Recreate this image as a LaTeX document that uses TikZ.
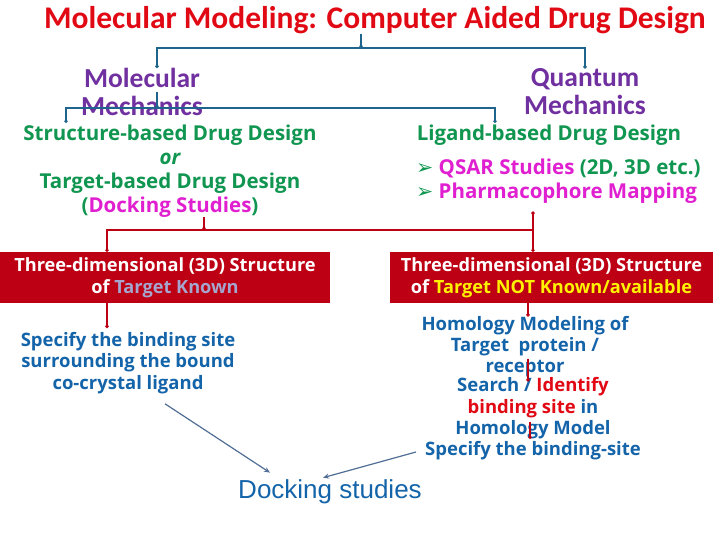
\documentclass[tikz,border=0pt]{standalone}
\usepackage{fontspec}
\setmainfont{Open Sans}
\newfontfamily\calibri{Carlito}
\newfontfamily\arialfont{Liberation Sans}
\newfontfamily\symfont{DejaVu Sans}
\usetikzlibrary{arrows.meta}
\definecolor{titlered}{RGB}{225,10,20}
\definecolor{treeblue}{RGB}{31,100,140}
\definecolor{mmpurple}{RGB}{112,48,160}
\definecolor{ddgreen}{RGB}{16,150,80}
\definecolor{dmagenta}{RGB}{224,32,208}
\definecolor{boxred}{RGB}{190,0,20}
\definecolor{lavtext}{RGB}{165,165,205}
\definecolor{stepblue}{RGB}{20,100,170}
\definecolor{arrowgrey}{RGB}{80,110,150}
\newcommand{\bul}{{\symfont\char"27A2}\ }

\begin{document}
\begin{tikzpicture}[x=1pt,y=-1pt,
    lbl/.style={inner sep=0pt,align=center},
    bluetree/.style={draw=treeblue,line width=1.1pt},
    redtree/.style={draw=boxred,line width=1.1pt},
    dot/.style={-{Circle[length=3.5pt]}},
    redbox/.style={fill=boxred,text=white,inner sep=0pt,align=center,
      font=\bfseries\fontsize{18.2}{22}\selectfont},
    ddtext/.style={lbl,text=ddgreen,font=\bfseries\fontsize{20.5}{24}\selectfont},
    steptext/.style={lbl,text=stepblue,font=\bfseries\fontsize{18.5}{21.3}\selectfont},
    tomodel/.style={draw=arrowgrey,line width=1.2pt,-{Stealth[length=6pt,width=5pt]}}]
  \useasboundingbox[fill=white] (0,0) rectangle (720,540);
  % headings
  \node[lbl,text=titlered,font=\calibri\bfseries\fontsize{31.5}{34}\selectfont] (title) at (375,20)
    {Molecular Modeling: Computer Aided Drug Design};
  \node[lbl,text=mmpurple,font=\calibri\bfseries\fontsize{27.5}{28}\selectfont] (mm) at (142,92)
    {Molecular\\Mechanics};
  \node[lbl,text=mmpurple,font=\calibri\bfseries\fontsize{27.5}{28}\selectfont] (qm) at (585,92)
    {Quantum\\Mechanics};
  % design approaches
  \node[ddtext] (sbdd) at (170,171)
    {Structure-based Drug Design\\{\itshape or}\\Target-based Drug Design\\(\textcolor{dmagenta}{Docking Studies})};
  \node[ddtext] (lbdd) at (549,135)
    {Ligand-based Drug Design};
  \node[ddtext,anchor=west,text=dmagenta] (qsar) at (416,168)
    {\textcolor{ddgreen}{\bul}QSAR Studies \textcolor{ddgreen}{(2D, 3D etc.)}};
  \node[ddtext,anchor=west,text=dmagenta] (pharm) at (416,193)
    {\textcolor{ddgreen}{\bul}Pharmacophore Mapping};
  % structure known or not
  \node[redbox,minimum width=330pt,minimum height=51pt] (known) at (165,277.5)
    {Three-dimensional (3D) Structure\\of \textcolor{lavtext}{Target Known}};
  \node[redbox,minimum width=323pt,minimum height=51pt] (notknown) at (551.5,277.5)
    {Three-dimensional (3D) Structure\\of \textcolor{yellow}{Target NOT Known/available}};
  % steps
  \node[steptext] (bind) at (128,363)
    {Specify the binding site\\surrounding the bound\\co-crystal ligand};
  \node[steptext] (homol) at (525,346.5)
    {Homology Modeling of\\Target\ \ protein /\\receptor};
  \node[steptext] (search) at (533,419)
    {Search / \textcolor{titlered}{Identify}\\\textcolor{titlered}{binding site} in\\Homology Model\\Specify the binding-site};
  \node[lbl,text=stepblue,font=\arialfont\fontsize{26}{28}\selectfont] (dock) at (330,492)
    {Docking studies};
  % connectors
  \coordinate (j1) at (361,48);
  \coordinate (j2) at (157,108);
  \coordinate (sbtop) at (66,123);
  \coordinate (lbtop) at (495,123);
  \coordinate (j3) at (204,230);
  \coordinate (j4) at (533,230);
  \coordinate (kd) at (107,252);
  \coordinate (nd) at (533,252);
  \draw[bluetree,dot] (title.south -| j1) -- (j1);
  \draw[bluetree,dot] (j1) -| (mm.north -| j2);
  \draw[bluetree,dot] (j1) -| (qm.north);
  \draw[bluetree,dot] (mm.center -| j2) -- (j2);
  \draw[bluetree,dot] (j2) -| (sbtop);
  \draw[bluetree,dot] (j2) -| (lbtop);
  \draw[redtree,dot] (sbdd.south -| j3) -- (j3);
  \draw[redtree,dot] (j4) -- ([yshift=-8pt]pharm.south -| j4);
  \draw[redtree,dot] (j3) -| (kd);
  \draw[redtree,dot] (j3) -- (j4) -- (nd);
  \draw[redtree,dot] (known.south -| kd) -- ([yshift=4pt]bind.north -| kd);
  \draw[redtree,dot] ([xshift=-23.5pt]notknown.south) -- ([xshift=3pt,yshift=-1pt]homol.north);
  \draw[redtree,dot] ([xshift=3pt,yshift=-12pt]homol.center) -- ([xshift=-5pt,yshift=-4pt]search.north);
  \draw[redtree,dot] ([xshift=-3pt,yshift=-3pt]search.center) -- ([xshift=-3pt,yshift=-20pt]search.center);
  \draw[tomodel] ([xshift=37pt,yshift=-10pt]bind.south) -- ([xshift=-60pt,yshift=7pt]dock.north);
  \draw[tomodel] ([xshift=-9pt,yshift=-33pt]search.west) -- ([xshift=-7pt,yshift=2pt]dock.north);
\end{tikzpicture}
\end{document}
